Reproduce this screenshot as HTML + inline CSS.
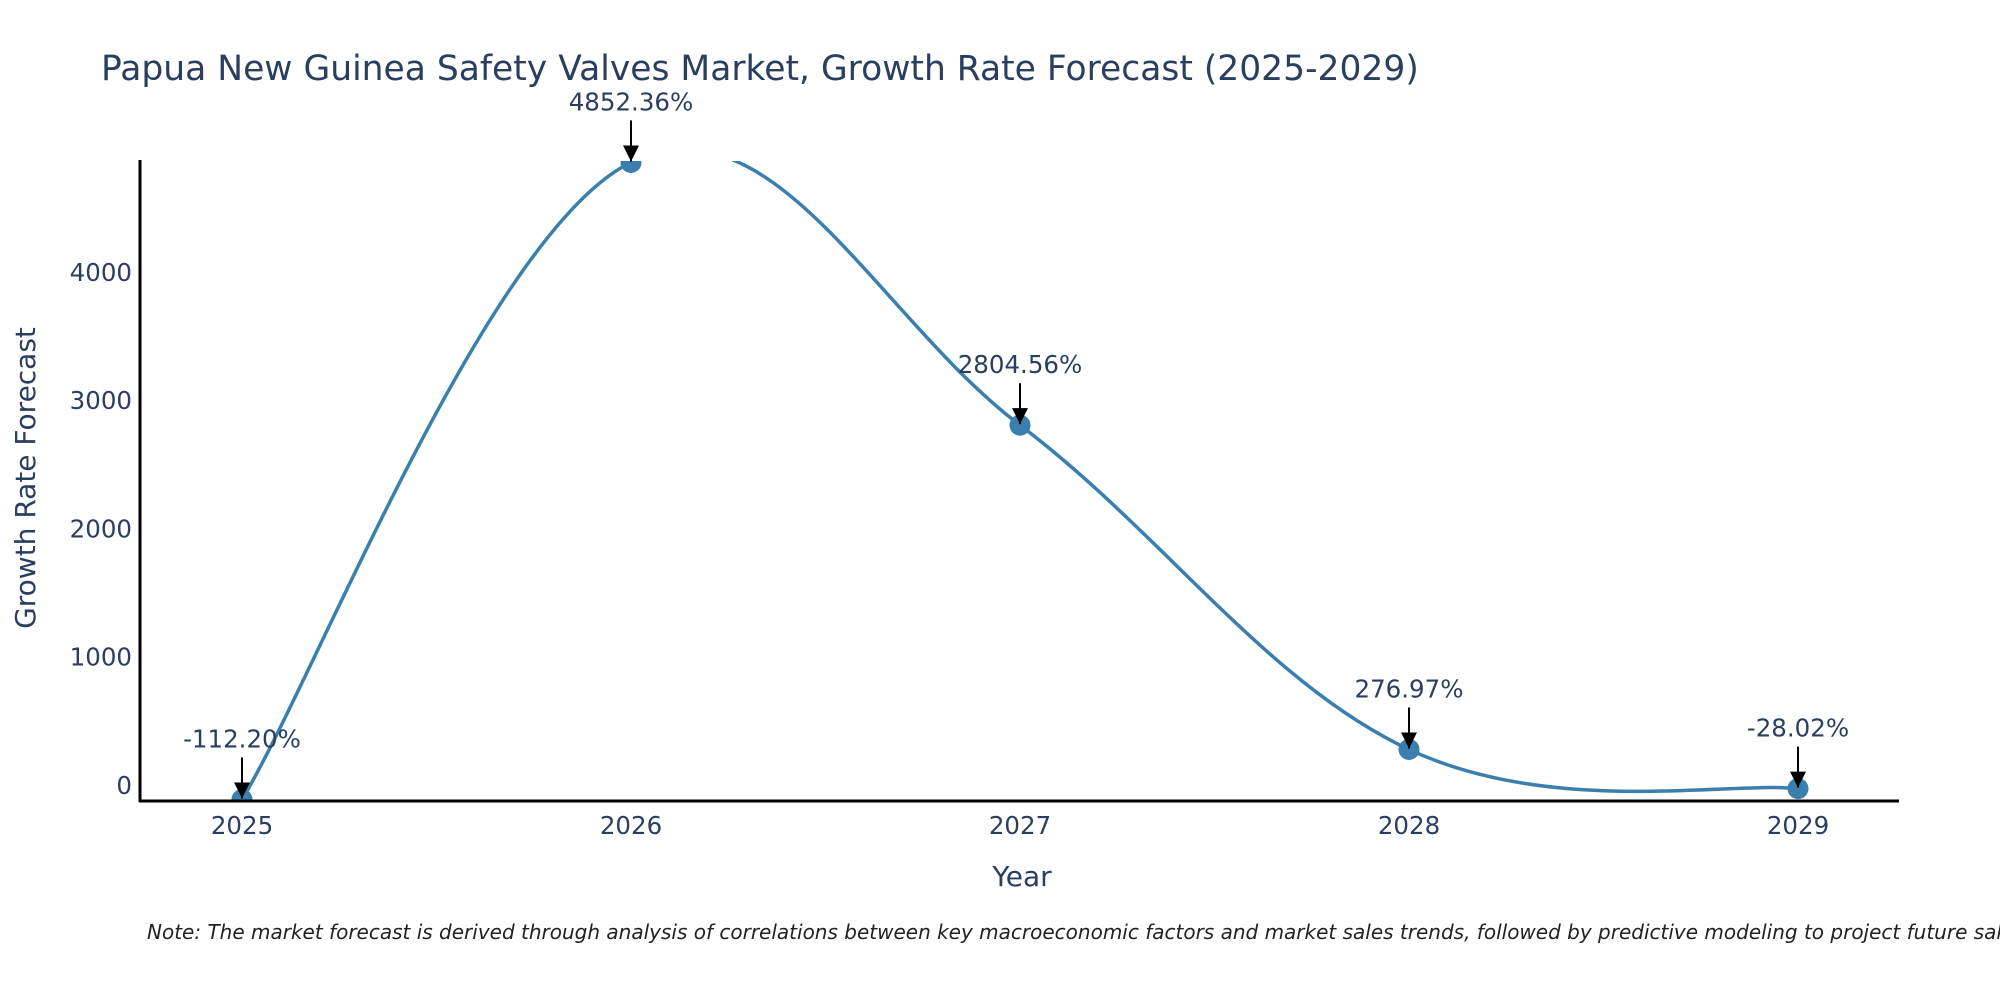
<!DOCTYPE html>
<html><head><meta charset="utf-8"><style>
body{margin:0;background:#fff;}
svg text{font-family:"DejaVu Sans","Liberation Sans",sans-serif;fill:#2a3f5f;}
</style></head><body>
<svg id="chart" width="2000" height="1000" xmlns="http://www.w3.org/2000/svg">
<defs><clipPath id="clip"><rect x="139" y="161" width="1760" height="640"/></clipPath>
<marker id="ah" viewBox="0 0 10 10" refX="10" refY="5" markerWidth="8" markerHeight="8" orient="auto"><path d="M0,0 L10,5 L0,10 z" fill="#000"/></marker></defs>
<text x="101" y="80" font-size="34.5">Papua New Guinea Safety Valves Market, Growth Rate Forecast (2025-2029)</text>
<g id="yticks"></g><g id="xticks"></g>
<g clip-path="url(#clip)"><path id="line" fill="none" stroke="#3a7fae" stroke-width="3.5"/><g id="pts"></g></g>
<line x1="140" y1="160" x2="140" y2="802" stroke="#000" stroke-width="3"/>
<line x1="139" y1="801" x2="1899" y2="801" stroke="#000" stroke-width="3"/>
<g id="ann"></g>
<text transform="translate(35,478) rotate(-90)" text-anchor="middle" font-size="28">Growth Rate Forecast</text>
<text x="1022" y="886" text-anchor="middle" font-size="28">Year</text>
<text x="147" y="939" font-size="20" font-style="italic" style="fill:#222">Note: The market forecast is derived through analysis of correlations between key macroeconomic factors and market sales trends, followed by predictive modeling to project future sales.</text>
</svg>
<script>
const years=[2025,2026,2027,2028,2029];
const values=[-112.20,4852.36,2804.56,276.97,-28.02];
const labels=["-112.20%","4852.36%","2804.56%","276.97%","-28.02%"];
const yTicks=[0,1000,2000,3000,4000];
const NS="http://www.w3.org/2000/svg";
const X=v=>242+(v-2025)*389;
const Y=v=>785-v*0.1283;
function mk(t,a,p){const e=document.createElementNS(NS,t);for(const k in a)e.setAttribute(k,a[k]);p.appendChild(e);return e;}
const yt=document.getElementById('yticks');
yTicks.forEach(v=>{const t=mk('text',{x:132,y:Y(v)+9,'text-anchor':'end','font-size':24.5},yt);t.textContent=v;

});
const xt=document.getElementById('xticks');
years.forEach(v=>{const t=mk('text',{x:X(v),y:834,'text-anchor':'middle','font-size':24.5},xt);t.textContent=v;

});
const P=years.map((y,i)=>[X(y),Y(values[i])]);
let d='M'+P[0][0]+','+P[0][1];const s=0.55;
for(let i=0;i<P.length-1;i++){const p0=P[Math.max(0,i-1)],p1=P[i],p2=P[i+1],p3=P[Math.min(P.length-1,i+2)];
const c1=[p1[0]+(p2[0]-p0[0])*s/3,p1[1]+(p2[1]-p0[1])*s/3],c2=[p2[0]-(p3[0]-p1[0])*s/3,p2[1]-(p3[1]-p1[1])*s/3];
d+=` C${c1[0]},${c1[1]} ${c2[0]},${c2[1]} ${p2[0]},${p2[1]}`;}
document.getElementById('line').setAttribute('d',d);
const pts=document.getElementById('pts'),ann=document.getElementById('ann');
P.forEach((p,i)=>{const c=mk('circle',{cx:p[0],cy:p[1],r:10.5,fill:'#3a7fae'},pts);


const l=mk('line',{x1:p[0],y1:p[1]-42,x2:p[0],y2:p[1]-1,stroke:'#000','stroke-width':2,'marker-end':'url(#ah)'},ann);


const t=mk('text',{x:p[0],y:p[1]-52,'text-anchor':'middle','font-size':24.5},ann);t.textContent=labels[i];

});
</script>
</body></html>
